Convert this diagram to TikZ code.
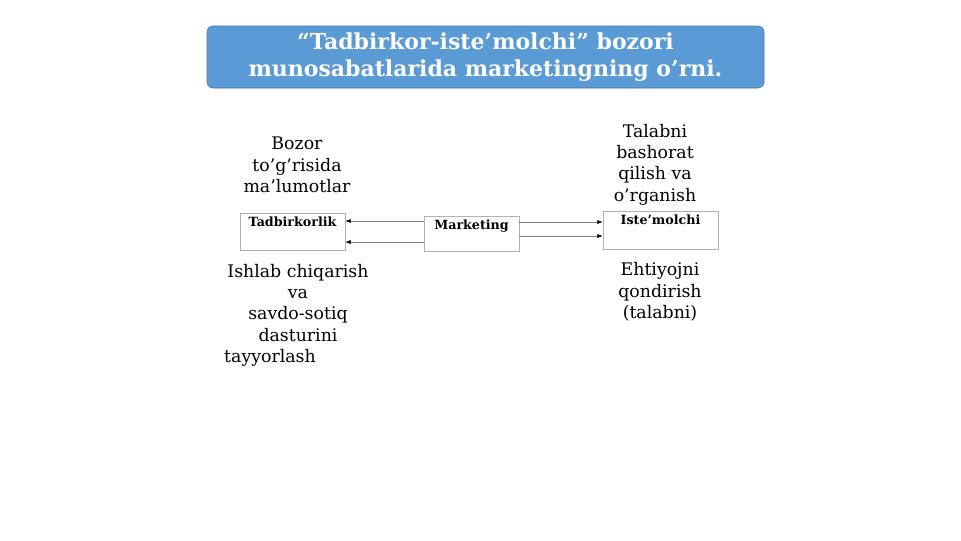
\documentclass[tikz,border=0pt]{standalone}
\usepackage{fontspec}
\setmainfont{DejaVu Serif}
\usetikzlibrary{arrows.meta}
\definecolor{titleblue}{RGB}{91,155,213}
\definecolor{titleedge}{RGB}{65,113,156}
\begin{document}
\begin{tikzpicture}
[x=0.75pt,y=-0.75pt,
  boxdecorate/.style={shape=rectangle,draw=gray!60,inner sep=0pt},
  labeldecorate/.style={font=\bfseries\fontsize{9.5}{11}\selectfont,inner sep=3pt,anchor=north},
  textdecorate/.style={align=center,font=\fontsize{13}{16}\selectfont,inner sep=0pt},
  linedecorate/.style={-{Latex[length=4pt,width=3pt,black]},draw=gray,thin}]
\useasboundingbox (0,0) rectangle (961,540);
%% title
\node (title) at (485.5,57) [shape=rectangle, rounded corners=4.5pt, fill=titleblue,
  draw=titleedge, minimum width=417.75pt, minimum height=46.5pt, text=white,
  align=center, font=\bfseries\fontsize{16.5}{20.25}\selectfont]
  {“Tadbirkor-iste’molchi” bozori\\munosabatlarida marketingning o’rni.};
%% boxes
\foreach \nodename/\x/\y/\w/\h/\lbl in {tad/292.5/231.5/78.75/27.75/Tadbirkorlik,
  mkt/471.5/233.5/71.25/26.25/Marketing, iste/660.5/230/86.25/28.5/Iste’molchi}
{
  \node (\nodename) at (\x,\y) [boxdecorate, minimum width=\w pt, minimum height=\h pt] {};
  \node [labeldecorate] at (\nodename.north) {\lbl};
}
%% texts
\node (bozor) at (297,165) [textdecorate] {Bozor\\to’g’risida\\ma’lumotlar};
\node (talab) at (655,164.5) [textdecorate] {Talabni\\bashorat\\qilish va\\o’rganish};
\node (ishlab) at (298,315) [textdecorate]
  {Ishlab chiqarish\\va\\savdo-sotiq\\dasturini\\tayyorlash\hspace*{42pt}};
\node (ehtiyoj) at (660,292) [textdecorate] {Ehtiyojni\\qondirish\\(talabni)};
%% arrows
\foreach \startpoint/\endpoint/\ypos in {mkt.west/tad.east/221, mkt.west/tad.east/242,
  mkt.east/iste.west/222, mkt.east/iste.west/236}
{
  \draw [linedecorate] (\startpoint |- 0,\ypos) -- (\endpoint |- 0,\ypos);
}
\end{tikzpicture}
\end{document}
